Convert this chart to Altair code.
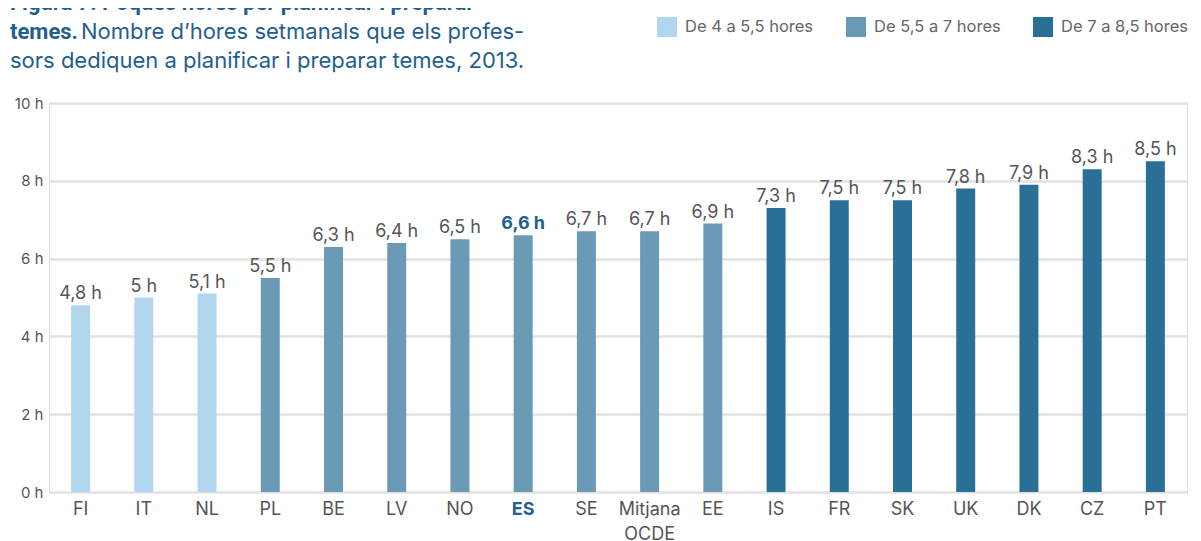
import altair as alt
import pandas as pd

countries = ["FI", "IT", "NL", "PL", "BE", "LV", "NO", "ES", "SE", "Mitjana OCDE",
             "EE", "IS", "FR", "SK", "UK", "DK", "CZ", "PT"]
hours = [4.8, 5.0, 5.1, 5.5, 6.3, 6.4, 6.5, 6.6, 6.7, 6.7, 6.9, 7.3, 7.5, 7.5, 7.8, 7.9, 8.3, 8.5]
groups = ["De 4 a 5,5 hores"] * 3 + ["De 5,5 a 7 hores"] * 8 + ["De 7 a 8,5 hores"] * 7
group_order = ["De 4 a 5,5 hores", "De 5,5 a 7 hores", "De 7 a 8,5 hores"]
group_colors = ["#b3d6ef", "#6a9ab6", "#2a6f96"]
y_ticks = [0, 2, 4, 6, 8, 10]

title_line1 = "Figura 7: Poques hores per planificar i preparar"
title_bold = "temes."
title_line2 = "Nombre d\u2019hores setmanals que els profes-"
title_line3 = "sors dediquen a planificar i preparar temes, 2013."

labels = [("{:g}".format(v)).replace(".", ",") + " h" for v in hours]
df = pd.DataFrame({"country": countries, "hours": hours, "group": groups, "label": labels})

FONT = "Inter"
BOLD_FONT = "Roboto"
BLUE = "#1f5f8f"
GREY = "#555555"

x = alt.X("country:N", sort=countries,
          scale=alt.Scale(paddingInner=0.7, paddingOuter=0.35),
          axis=alt.Axis(title=None, labelAngle=0, domain=False, ticks=False, grid=False,
                        labelPadding=8, labelFontSize=18, labelFont=FONT,
                        labelLineHeight=25,
                        labelExpr="datum.label == 'Mitjana OCDE' ? ['Mitjana', 'OCDE'] : datum.label",
                        labelColor={"expr": "datum.value == 'ES' ? '%s' : '%s'" % (BLUE, GREY)},
                        labelFontWeight={"expr": "datum.value == 'ES' ? 'bold' : 'normal'"}))
y = alt.Y("hours:Q", scale=alt.Scale(domain=[0, 10], nice=False),
          axis=alt.Axis(title=None, values=y_ticks, labelExpr="datum.value + ' h'",
                        domain=False, ticks=False, grid=True, gridColor="#e2e2e2",
                        gridWidth=2.5, labelPadding=6, labelFontSize=15,
                        labelFont=FONT, labelColor=GREY))

base = alt.Chart(df)

bars = base.mark_bar().encode(
    x=x, y=y,
    color=alt.Color("group:N", scale=alt.Scale(domain=group_order, range=group_colors),
                    legend=alt.Legend(title=None, orient="none", direction="horizontal",
                                      legendX=608, legendY=-86, symbolType="square",
                                      symbolSize=400, symbolStrokeWidth=0, symbolOpacity=1,
                                      labelFontSize=16.5, labelFont=FONT, labelColor="#666666",
                                      labelOffset=8, columnPadding=32, labelLimit=300)),
)

vals = base.transform_filter("datum.country != 'ES'").mark_text(
    baseline="alphabetic", dy=-6, fontSize=18, font=FONT, color=GREY
).encode(x=alt.X("country:N", sort=countries), y="hours:Q", text="label:N")

vals_es = base.transform_filter("datum.country == 'ES'").mark_text(
    baseline="alphabetic", dy=-6, fontSize=18, font=FONT, color=BLUE, fontWeight="bold"
).encode(x=alt.X("country:N", sort=countries), y="hours:Q", text="label:N")

tdf = pd.DataFrame({"t": [title_line1]})
t1 = alt.Chart(tdf).mark_text(align="left", baseline="alphabetic", fontSize=22, font=BOLD_FONT,
                              fontWeight="bold", color=BLUE).encode(
    x=alt.value(-39), y=alt.value(-93), text=alt.value(title_line1))
t2a = alt.Chart(tdf).mark_text(align="left", baseline="alphabetic", fontSize=22, font=BOLD_FONT,
                               fontWeight="bold", color=BLUE).encode(
    x=alt.value(-39), y=alt.value(-64), text=alt.value(title_bold))
t2b = alt.Chart(tdf).mark_text(align="left", baseline="alphabetic", fontSize=22, font=FONT,
                               color=BLUE).encode(
    x=alt.value(32), y=alt.value(-64), text=alt.value(title_line2))
t3 = alt.Chart(tdf).mark_text(align="left", baseline="alphabetic", fontSize=22, font=FONT,
                              color=BLUE).encode(
    x=alt.value(-39), y=alt.value(-35), text=alt.value(title_line3))

chart = alt.layer(bars, vals, vals_es, t1, t2a, t2b, t3).properties(
    width=1138, height=389,
    autosize=alt.AutoSizeParams(type="none"),
    padding={"left": 41, "top": 95, "right": 6, "bottom": 50},
).configure_view(stroke=None).configure(font=FONT)

chart.save("out.html", embed_options={"renderer": "svg", "actions": False})
